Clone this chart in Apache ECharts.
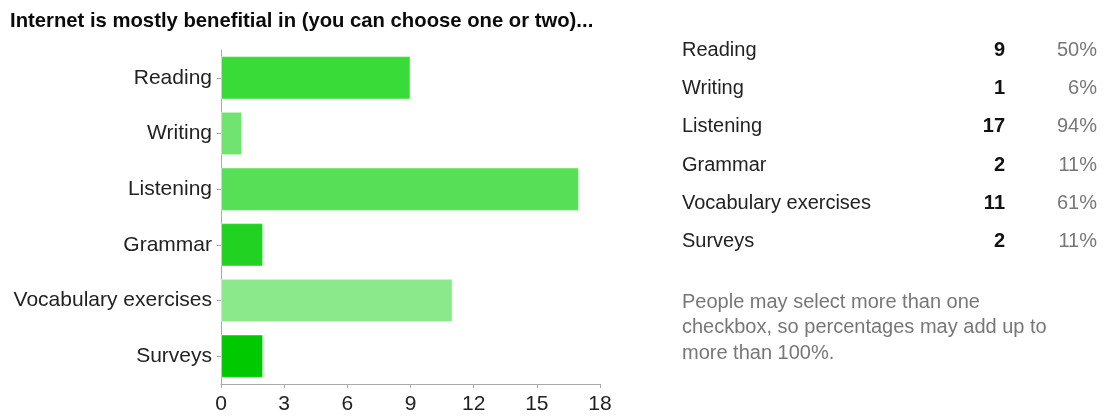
<!DOCTYPE html>
<html>
<head>
<meta charset="utf-8">
<title>Internet is mostly benefitial in</title>
<script src="https://cdn.jsdelivr.net/npm/echarts@6/dist/echarts.min.js"></script>
<style>
  html, body { margin: 0; padding: 0; background: #fff; }
  #chart { width: 1104px; height: 416px; }
</style>
</head>
<body>
<div id="chart"></div>
<script>
// Survey answers: how many people picked each area
const titleText = 'Internet is mostly benefitial in (you can choose one or two)...';
const categories = ['Reading', 'Writing', 'Listening', 'Grammar', 'Vocabulary exercises', 'Surveys'];
const counts = [9, 1, 17, 2, 11, 2];
const percentLabels = ['50%', '6%', '94%', '11%', '61%', '11%'];
const barColors = ['#39db39', '#70e370', '#57e057', '#22d222', '#8be88b', '#00c900'];
const xTicks = [0, 3, 6, 9, 12, 15, 18];
const noteLines = [
  'People may select more than one',
  'checkbox, so percentages may add up to',
  'more than 100%.'
];

const FONT = '"Liberation Sans", Arial, sans-serif';

// Title, summary table on the right and the footnote
const graphics = [];
graphics.push({
  type: 'text', x: 10, y: 21, scaleX: 0.965,
  style: { text: titleText, font: 'bold 21px ' + FONT, fill: '#0a0a0a', textVerticalAlign: 'middle', textAlign: 'left' }
});
const rowTop = 50, rowStep = 38.35;
categories.forEach((name, i) => {
  const y = rowTop + i * rowStep;
  graphics.push({
    type: 'text', x: 682, y: y,
    style: { text: name, font: '20px ' + FONT, fill: '#222', textVerticalAlign: 'middle', textAlign: 'left' }
  });
  graphics.push({
    type: 'text', x: 1005, y: y,
    style: { text: String(counts[i]), font: 'bold 20px ' + FONT, fill: '#111', textVerticalAlign: 'middle', textAlign: 'right' }
  });
  graphics.push({
    type: 'text', x: 1097, y: y,
    style: { text: percentLabels[i], font: '20px ' + FONT, fill: '#777', textVerticalAlign: 'middle', textAlign: 'right' }
  });
});
noteLines.forEach((line, i) => {
  graphics.push({
    type: 'text', x: 682, y: 302 + i * 25.7,
    style: { text: line, font: '20px ' + FONT, fill: '#777', textVerticalAlign: 'middle', textAlign: 'left' }
  });
});

const chart = echarts.init(document.getElementById('chart'), null, { renderer: 'canvas' });
chart.setOption({
  animation: false,
  backgroundColor: '#fff',
  grid: { left: 221, right: 504, top: 50, bottom: 32, containLabel: false },
  xAxis: {
    type: 'value',
    min: xTicks[0],
    max: xTicks[xTicks.length - 1],
    interval: xTicks[1] - xTicks[0],
    axisLine: { show: true, lineStyle: { color: '#aaa', width: 1 } },
    axisTick: { show: true, length: 4, lineStyle: { color: '#aaa' } },
    splitLine: { show: false },
    axisLabel: { color: '#222', fontSize: 21, fontFamily: FONT, margin: 10 }
  },
  yAxis: {
    type: 'category',
    inverse: true,
    data: categories,
    axisLine: { show: true, lineStyle: { color: '#aaa', width: 1 } },
    axisTick: { show: true, length: 4, alignWithLabel: true, lineStyle: { color: '#aaa' } },
    axisLabel: { color: '#222', fontSize: 21, fontFamily: FONT, margin: 9 }
  },
  series: [{
    type: 'bar',
    barCategoryGap: '22%',
    data: counts.map((v, i) => ({ value: v, itemStyle: { color: barColors[i] } })),
    itemStyle: { borderColor: 'rgba(255,255,255,0.5)', borderWidth: 1 }
  }],
  graphic: graphics
});
</script>
</body>
</html>
